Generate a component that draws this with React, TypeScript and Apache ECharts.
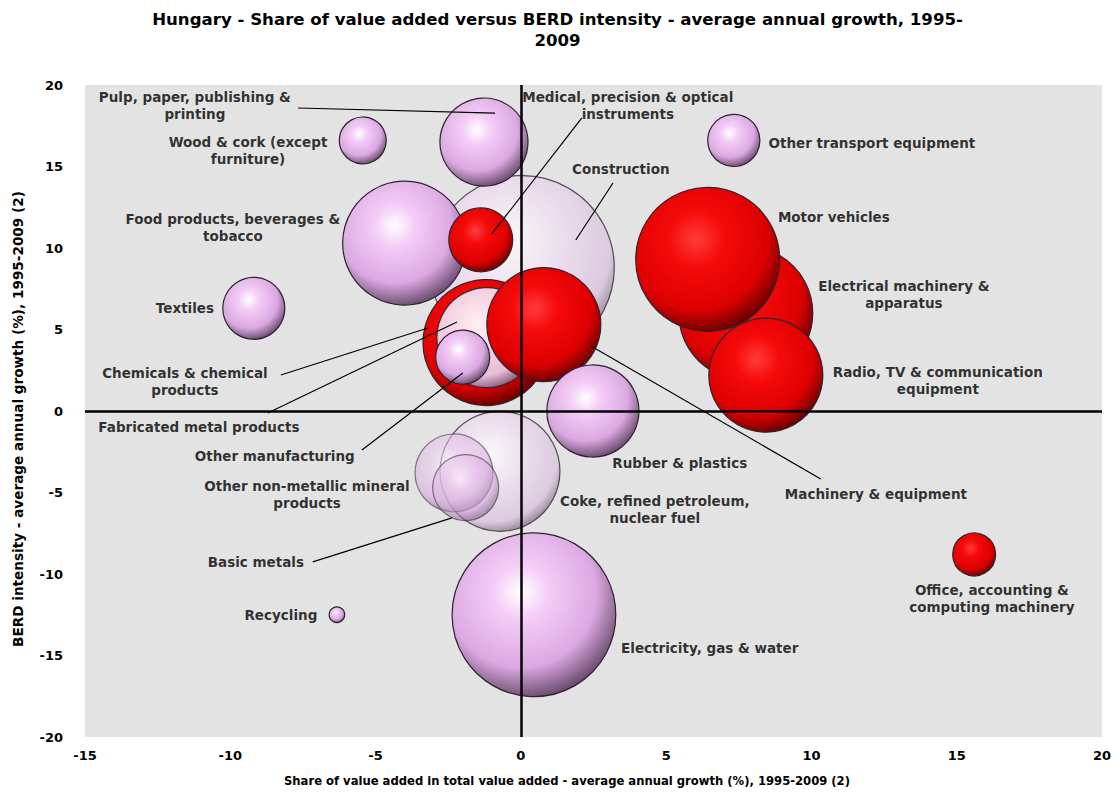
import React, { useEffect, useRef } from "react";
import * as echarts from "echarts";

const FONT = "DejaVu Sans";

// Bubble data (drawn in this order: later items on top)
const sectors = [
  "Construction",
  "Coke, refined petroleum, nuclear fuel",
  "Electricity, gas & water",
  "Food products, beverages & tobacco",
  "Pulp, paper, publishing & printing",
  "Wood & cork (except furniture)",
  "Medical, precision & optical instruments",
  "Chemicals & chemical products",
  "Fabricated metal products",
  "Other manufacturing",
  "Electrical machinery & apparatus",
  "Motor vehicles",
  "Radio, TV & communication equipment",
  "Machinery & equipment",
  "Rubber & plastics",
  "Textiles",
  "Other non-metallic mineral products",
  "Basic metals",
  "Recycling",
  "Office, accounting & computing machinery",
  "Other transport equipment",
];
// Share of value added in total value added - average annual growth (%)
const valueAddedGrowth = [
  0.05, -0.72, 0.45, -4.0, -1.27, -5.44, -1.38, -1.2, -1.17, -2.0, 7.74, 6.43, 8.43,
  0.79, 2.48, -9.19, -2.3, -1.9, -6.33, 15.6, 7.33,
];
// BERD intensity - average annual growth (%)
const berdGrowth = [
  8.8, -3.7, -12.5, 10.3, 16.5, 16.6, 10.5, 4.2, 4.5, 3.3, 6.0, 9.3, 2.2, 5.3, 0.0,
  6.3, -3.8, -4.7, -12.5, -8.8, 16.6,
];
// Bubble size (relative weight)
const bubbleWeight = [
  84.6, 36, 67, 38.4, 19.4, 5.5, 10.2, 39.7, 25, 7.3, 44.9, 51.8, 32.5, 32.5, 21.2,
  9.6, 15.2, 10.9, 0.6, 4.6, 6.8,
];
const sectorGroup = [
  "pale", "pale", "purple", "purple", "purple", "purple", "red", "red", "white",
  "purple", "red", "red", "red", "red", "purple", "purple", "ghost", "ghost",
  "purple", "red", "purple",
];

// Labels (anchored in data units)
const labelTexts = [
  "Pulp, paper, publishing &\nprinting",
  "Wood & cork (except\nfurniture)",
  "Food products, beverages &\ntobacco",
  "Textiles",
  "Chemicals & chemical\nproducts",
  "Fabricated metal products",
  "Other manufacturing",
  "Other non-metallic mineral\nproducts",
  "Basic metals",
  "Recycling",
  "Medical, precision & optical\ninstruments",
  "Construction",
  "Other transport equipment",
  "Motor vehicles",
  "Electrical machinery &\napparatus",
  "Radio, TV & communication\nequipment",
  "Rubber & plastics",
  "Coke, refined petroleum,\nnuclear fuel",
  "Machinery & equipment",
  "Electricity, gas & water",
  "Office, accounting &\ncomputing machinery",
];
const labelX = [
  -11.22, -9.39, -9.91, -11.56, -11.56, -11.08, -8.47, -7.36, -9.12, -8.26, 3.68,
  3.44, 12.08, 10.77, 13.18, 14.35, 5.47, 4.61, 12.22, 6.5, 16.21,
];
const labelY = [
  18.77, 16.01, 11.23, 6.32, 1.78, -0.98, -2.76, -5.15, -9.26, -12.52, 18.77,
  14.85, 16.44, 11.9, 7.12, 1.9, -3.19, -6.07, -5.09, -14.54, -11.53,
];

// Leader lines: [from, to] in data units
const leaderFrom = [
  [-7.67, 18.59], [2.1, 17.98], [3.17, 13.99], [-8.26, 2.21], [-8.71, -0.12],
  [-5.47, -2.39], [-7.16, -9.26], [2.41, 3.99],
];
const leaderTo = [
  [-0.89, 18.28], [-1.0, 10.86], [1.89, 10.49], [-3.2, 5.09], [-2.2, 5.46],
  [-2.0, 2.33], [-2.37, -6.56], [10.32, -4.17],
];

const xTicks = { min: -15, max: 20, interval: 5 };
const yTicks = { min: -20, max: 20, interval: 5 };

const titleText =
  "Hungary - Share of value added versus BERD intensity - average annual growth, 1995-\n2009";
const xTitle =
  "Share of value added in total value added - average annual growth (%), 1995-2009 (2)";
const yTitle = "BERD intensity - average annual growth (%), 1995-2009 (2)";

function grad(stops: [number, string][]) {
  return {
    type: "radial",
    x: 0.42,
    y: 0.36,
    r: 0.66,
    colorStops: stops.map(([offset, color]) => ({ offset, color })),
  };
}

const styles: Record<string, any> = {
  purple: {
    color: grad([[0, "#ffffff"], [0.25, "#f4cdf7"], [0.7, "#dba8e1"], [1, "#684a6c"]]),
    opacity: 1,
  },
  red: {
    color: grad([[0, "#ff3c3c"], [0.3, "#f60a0a"], [0.75, "#dc0000"], [1, "#680000"]]),
    opacity: 1,
  },
  pale: {
    color: grad([[0, "#ffffff"], [0.45, "#eedcf0"], [0.85, "#dac2de"], [1, "#86708a"]]),
    opacity: 0.78,
  },
  white: {
    color: grad([[0, "#ffffff"], [0.4, "#f7e8f8"], [0.8, "#e4cce8"], [1, "#86688a"]]),
    opacity: 0.92,
  },
  ghost: {
    color: grad([[0, "#ffffff"], [0.3, "#eccbf0"], [0.75, "#d6aadc"], [1, "#6e5272"]]),
    opacity: 0.55,
  },
};

const textBase = {
  fontFamily: FONT,
  fontWeight: "bold" as const,
  color: "#000",
};

export default function App() {
  const ref = useRef<HTMLDivElement>(null);
  useEffect(() => {
    const chart = echarts.init(ref.current!, null, { renderer: "svg" });
    const bubbleData = sectors.map((name, i) => ({
      name,
      value: [valueAddedGrowth[i], berdGrowth[i], bubbleWeight[i]],
      symbolSize: 20 * Math.sqrt(bubbleWeight[i]),
      itemStyle: {
        color: styles[sectorGroup[i]].color,
        opacity: styles[sectorGroup[i]].opacity,
        borderColor: "#2e222f",
        borderWidth: 1.2,
      },
    }));
    const option: any = {
      animation: false,
      backgroundColor: "#ffffff",
      graphic: [
        {
          type: "text",
          left: "center",
          top: 9,
          style: {
            text: titleText,
            font: `bold 16.6px "${FONT}"`,
            fill: "#000",
            textAlign: "center",
            lineHeight: 21,
          },
        },
        {
          type: "text",
          x: 567,
          y: 781,
          style: {
            text: xTitle,
            font: `bold 11.6px "${FONT}"`,
            fill: "#000",
            textAlign: "center",
            textVerticalAlign: "middle",
          },
        },
        {
          type: "text",
          x: 18,
          y: 419,
          rotation: Math.PI / 2,
          style: {
            text: yTitle,
            font: `bold 13.6px "${FONT}"`,
            fill: "#000",
            textAlign: "center",
            textVerticalAlign: "middle",
          },
        },
      ],
      grid: {
        left: 85,
        right: 13,
        top: 85,
        bottom: 66,
        show: true,
        backgroundColor: "#e3e3e3",
        borderWidth: 0,
      },
      xAxis: {
        type: "value",
        ...xTicks,
        axisLine: { show: false },
        axisTick: { show: false },
        splitLine: { show: false },
        axisLabel: { ...textBase, fontSize: 13, margin: 12 },
      },
      yAxis: {
        type: "value",
        ...yTicks,
        axisLine: { show: false },
        axisTick: { show: false },
        splitLine: { show: false },
        axisLabel: { ...textBase, fontSize: 13, margin: 22 },
      },
      series: [
        {
          type: "scatter",
          data: [],
          z: 1,
          silent: true,
          markLine: {
            silent: true,
            symbol: ["none", "none"],
            label: { show: false },
            lineStyle: { color: "#000", width: 2.5, type: "solid" },
            data: [{ xAxis: 0 }, { yAxis: 0 }],
          },
        },
        {
          type: "scatter",
          z: 2,
          data: bubbleData,
          silent: true,
        },
        {
          type: "lines",
          coordinateSystem: "cartesian2d",
          z: 3,
          silent: true,
          lineStyle: { color: "#000", width: 1.2, opacity: 1 },
          data: leaderFrom.map((f, i) => ({ coords: [f, leaderTo[i]] })),
        },
        {
          type: "scatter",
          z: 4,
          silent: true,
          symbolSize: 1,
          itemStyle: { color: "rgba(0,0,0,0)" },
          label: {
            show: true,
            position: "inside",
            formatter: "{b}",
            ...textBase,
            fontSize: 13.5,
            lineHeight: 17,
            align: "center",
          },
          data: labelTexts.map((t, i) => ({ name: t, value: [labelX[i], labelY[i]] })),
        },
      ],
    };
    chart.setOption(option);
    return () => chart.dispose();
  }, []);
  return (
    <div
      ref={ref}
      style={{ position: "fixed", left: 0, top: 0, width: 1115, height: 803, background: "#fff" }}
    />
  );
}
